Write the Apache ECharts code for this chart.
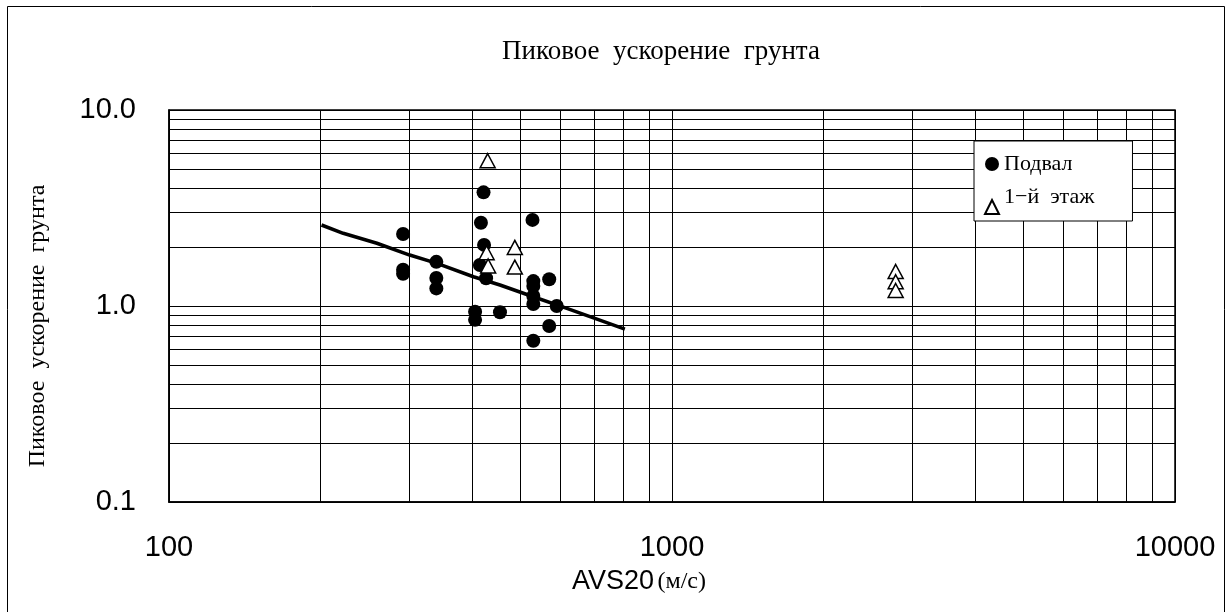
<!DOCTYPE html>
<html>
<head>
<meta charset="utf-8">
<script src="https://cdn.jsdelivr.net/npm/echarts@6/dist/echarts.min.js"></script>
<style>
  html, body { margin: 0; padding: 0; background: #fff; }
  #chart { width: 1232px; height: 612px; }
</style>
</head>
<body>
<div id="chart"></div>
<script>
// Подвал (basement) points
const basementX = [292, 292, 292, 340, 340, 340, 422, 417, 423, 415, 427, 406, 406, 455, 528, 530, 530, 530, 530, 570, 590, 570, 530];
const basementY = [2.33, 1.53, 1.46, 1.68, 1.39, 1.23, 3.80, 2.66, 2.05, 1.62, 1.385, 0.935, 0.85, 0.93, 2.75, 1.34, 1.265, 1.125, 1.024, 1.37, 1.0, 0.79, 0.665];

// 1-й этаж (first floor) points
const floorX = [430, 428, 431, 487, 487, 2784, 2784, 2784];
const floorY = [5.51, 1.87, 1.60, 1.99, 1.58, 1.50, 1.33, 1.20];

// regression line
const fitX = [201, 222, 259, 301, 341, 403, 455, 530, 618, 687, 806];
const fitY = [2.59, 2.35, 2.09, 1.82, 1.65, 1.41, 1.28, 1.115, 0.973, 0.882, 0.763];

// minor grid lines
const xMinor = [200, 300, 400, 500, 600, 700, 800, 900, 2000, 3000, 4000, 5000, 6000, 7000, 8000, 9000];
const yMinor = [0.2, 0.3, 0.4, 0.5, 0.6, 0.7, 0.8, 0.9, 2, 3, 4, 5, 6, 7, 8, 9];

const chart = echarts.init(document.getElementById('chart'));

const serif = '"Liberation Serif", "Times New Roman", serif';
const sans = '"Liberation Sans", Arial, sans-serif';

const minorLines = xMinor.map(v => ({ xAxis: v })).concat(yMinor.map(v => ({ yAxis: v })));

chart.setOption({
    animation: false,
    backgroundColor: '#fff',
    graphic: [{
        type: 'rect',
        shape: { x: 7.5, y: 6.5, width: 1217, height: 640 },
        style: { fill: 'none', stroke: '#000', lineWidth: 1 },
        silent: true,
        z: -10
    }],
    title: {
        text: 'Пиковое  ускорение  грунта',
        left: 656,
        textAlign: 'center',
        top: 33,
        textStyle: { fontFamily: serif, fontSize: 27, fontWeight: 'normal', color: '#000' }
    },
    legend: {
        orient: 'vertical',
        left: 974,
        top: 141,
        padding: [12, 38, 6, 10],
        itemGap: 11,
        itemWidth: 14,
        itemHeight: 14,
        backgroundColor: '#fff',
        borderColor: '#000',
        borderWidth: 1,
        formatter: name => name === 'Подвал' ? name : '{up|' + name + '}',
        textStyle: {
            fontFamily: serif,
            fontSize: 22,
            color: '#000',
            rich: {
                up: { fontFamily: serif, fontSize: 22, color: '#000', padding: [0, 0, 20, 0] }
            }
        },
        data: ['Подвал', '1−й  этаж']
    },
    grid: {
        left: 169,
        right: 57,
        top: 110,
        bottom: 110,
        show: true,
        borderColor: '#000',
        borderWidth: 1.5
    },
    xAxis: {
        type: 'log',
        logBase: 10,
        min: 100,
        max: 10000,
        name: '{a|AVS20} {b|(м/с)}',
        nameLocation: 'middle',
        nameGap: 66,
        nameTextStyle: {
            padding: [0, 66, 0, 0],
            rich: {
                a: { fontFamily: sans, fontSize: 27, color: '#000' },
                b: { fontFamily: serif, fontSize: 24, color: '#000' }
            }
        },
        axisLine: { lineStyle: { color: '#000', width: 1.5 } },
        axisTick: { show: false },
        axisLabel: {
            margin: 31,
            fontFamily: sans,
            fontSize: 29,
            color: '#000',
            formatter: v => String(Math.round(v))
        },
        splitLine: { show: true, lineStyle: { color: '#000', width: 1 } },
        minorTick: { show: false },
        minorSplitLine: { show: false }
    },
    yAxis: {
        type: 'log',
        logBase: 10,
        min: 0.1,
        max: 10,
        name: 'Пиковое  ускорение  грунта',
        nameLocation: 'middle',
        nameGap: 119,
        nameTextStyle: { fontFamily: serif, fontSize: 24, color: '#000', padding: [0, 40, 0, 0] },
        axisLine: { lineStyle: { color: '#000', width: 1.5 } },
        axisTick: { show: false },
        axisLabel: {
            margin: 33,
            fontFamily: sans,
            fontSize: 29,
            color: '#000',
            formatter: v => Number(v).toFixed(1)
        },
        splitLine: { show: true, lineStyle: { color: '#000', width: 1 } }
    },
    series: [
        {
            name: 'fit',
            type: 'line',
            data: fitX.map((x, i) => [x, fitY[i]]),
            showSymbol: false,
            symbol: 'none',
            lineStyle: { color: '#000', width: 3.5 },
            z: 3,
            markLine: {
                silent: true,
                symbol: 'none',
                label: { show: false },
                lineStyle: { color: '#000', width: 1, type: 'solid' },
                data: minorLines,
                z: 1
            }
        },
        {
            name: 'Подвал',
            type: 'scatter',
            data: basementX.map((x, i) => [x, basementY[i]]),
            symbol: 'circle',
            symbolSize: 14,
            itemStyle: { color: '#000', opacity: 1 },
            z: 4
        },
        {
            name: '1−й  этаж',
            type: 'scatter',
            data: floorX.map((x, i) => [x, floorY[i]]),
            symbol: 'triangle',
            symbolSize: [15, 14],
            itemStyle: { color: '#fff', borderColor: '#000', borderWidth: 1.5, opacity: 1 },
            z: 5
        }
    ]
});
</script>
</body>
</html>
